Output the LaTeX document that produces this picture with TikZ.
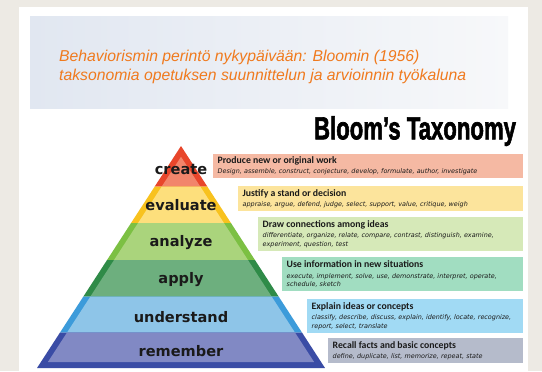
\documentclass[tikz,border=0pt]{standalone}
\usepackage{fontspec}
\setmainfont{Liberation Sans}
\newfontfamily\pyrfont{DejaVu Sans}
\newfontfamily\boxfont{Carlito}
\newfontfamily\wordfont{DejaVu Sans}
\newfontfamily\titlefont[BoldFeatures={FakeBold=2.2}]{Liberation Sans}
\usetikzlibrary{backgrounds}
\definecolor{bgcolor}{HTML}{EDEAE4}
\definecolor{headleft}{HTML}{E1E7F1}
\definecolor{headright}{HTML}{F7F8FA}
\definecolor{headorange}{HTML}{F07A1E}
% pyramid colours (dark edge / light inside)
\definecolor{createdark}{HTML}{E8462B}
\definecolor{createlight}{HTML}{F2856B}
\definecolor{evaldark}{HTML}{F8C21E}
\definecolor{evallight}{HTML}{FDDF7C}
\definecolor{analyzedark}{HTML}{7CC043}
\definecolor{analyzelight}{HTML}{AAD47C}
\definecolor{applydark}{HTML}{2F8B48}
\definecolor{applylight}{HTML}{6DAF7E}
\definecolor{underdark}{HTML}{3C9BDA}
\definecolor{underlight}{HTML}{8EC5E8}
\definecolor{rememdark}{HTML}{3A4CA5}
\definecolor{rememlight}{HTML}{8189C4}
% box colours
\definecolor{boxred}{HTML}{F5B9A3}
\definecolor{boxyellow}{HTML}{FCE49C}
\definecolor{boxgreen}{HTML}{D6E9B8}
\definecolor{boxmint}{HTML}{A1DDC1}
\definecolor{boxblue}{HTML}{A1DAF4}
\definecolor{boxgrey}{HTML}{B5BBCB}
\definecolor{inktext}{HTML}{1A1A1A}
\newcommand\boxhead[1]{{\boxfont\fontsize{9.8}{10.5}\selectfont\upshape\bfseries #1}\\[1.6bp]}

\begin{document}
\begin{tikzpicture}[
    x=1bp, y=-1bp,
    pyrlabel/.style={font=\pyrfont\bfseries\fontsize{14.6}{16}\selectfont, text=inktext, inner sep=0pt},
    infobox/.style={rectangle, anchor=north west, inner xsep=4.5bp, inner ysep=0pt,
      align=left, text=inktext, font=\wordfont\itshape\fontsize{6.45}{8.5}\selectfont}
]
  % Page and slide
  \useasboundingbox (0,0) rectangle (542,371);
  \fill[bgcolor] (0,0) rectangle (542,371);
  \fill[white] (19,7) rectangle (528,371);
  \shade[left color=headleft, right color=headright] (30,16) rectangle (508,108);

  % Heading
  \node[anchor=north west, inner sep=0pt, align=left, text=headorange,
        font=\itshape\fontsize{15.8}{18.6}\selectfont] (heading) at (59,50)
        {Behaviorismin perintö nykypäivään: Bloomin (1956)\\
         taksonomia opetuksen suunnittelun ja arvioinnin työkaluna};
  \node[anchor=base, inner sep=0pt, font=\titlefont\bfseries\fontsize{32}{34}\selectfont] (bloomtitle) at (415,139.3)
        {\scalebox{0.695}[1]{Bloom’s Taxonomy}};

  % Pyramid bands: top/bottom/inner bottom/dark/light
  \foreach \t/\b/\bi/\dk/\lt in {146/186.7/186.7/createdark/createlight,
      186.7/223/223/evaldark/evallight, 223/260/260/analyzedark/analyzelight,
      260/296.7/296.7/applydark/applylight, 296.7/332.7/332.7/underdark/underlight,
      332.7/368/362/rememdark/rememlight} {
    \pgfmathsetmacro\wt{0.6486*(\t-146)}
    \pgfmathsetmacro\wb{0.6486*(\b-146)}
    \fill[\dk] (181-\wt,\t) -- (181+\wt,\t) -- (181+\wb,\b) -- (181-\wb,\b) -- cycle;
    \pgfmathsetmacro\ti{max(\t,156.8)}
    \pgfmathsetmacro\wi{0.6486*(\ti-146)-7}
    \pgfmathsetmacro\wbi{0.6486*(\bi-146)-7}
    \fill[\lt] (181-\wi,\ti) -- (181+\wi,\ti) -- (181+\wbi,\bi) -- (181-\wbi,\bi) -- cycle;
  }

  % Level names
  \foreach \name/\y in {create/169, evaluate/205.5, analyze/243, apply/280,
      understand/317, remember/351} {
    \node[pyrlabel] (\name) at (181,\y) {\name};
  }

  % Description boxes
  \node[infobox, fill=boxred, minimum height=24bp, text width=301bp] (createbox) at (213,154)
    {\boxhead{Produce new or original work}
     Design, assemble, construct, conjecture, develop, formulate, author, investigate};
  \node[infobox, fill=boxyellow, minimum height=25bp, text width=276bp] (evalbox) at (238,186)
    {\boxhead{Justify a stand or decision}
     appraise, argue, defend, judge, select, support, value, critique, weigh};
  \node[infobox, fill=boxgreen, minimum height=34bp, text width=256bp] (analyzebox) at (258,217)
    {\boxhead{Draw connections among ideas}
     differentiate, organize, relate, compare, contrast, distinguish, examine,\\
     experiment, question, test};
  \node[infobox, fill=boxmint, minimum height=34bp, text width=232bp] (applybox) at (282,257)
    {\boxhead{Use information in new situations}
     execute, implement, solve, use, demonstrate, interpret, operate,\\
     schedule, sketch};
  \node[infobox, fill=boxblue, minimum height=34bp, text width=207bp] (underbox) at (307,299)
    {\boxhead{Explain ideas or concepts}
     classify, describe, discuss, explain, identify, locate, recognize,\\
     report, select, translate};
  \node[infobox, fill=boxgrey, minimum height=25bp, text width=186bp] (remembox) at (328,338)
    {\boxhead{Recall facts and basic concepts}
     define, duplicate, list, memorize, repeat, state};
\end{tikzpicture}
\end{document}
